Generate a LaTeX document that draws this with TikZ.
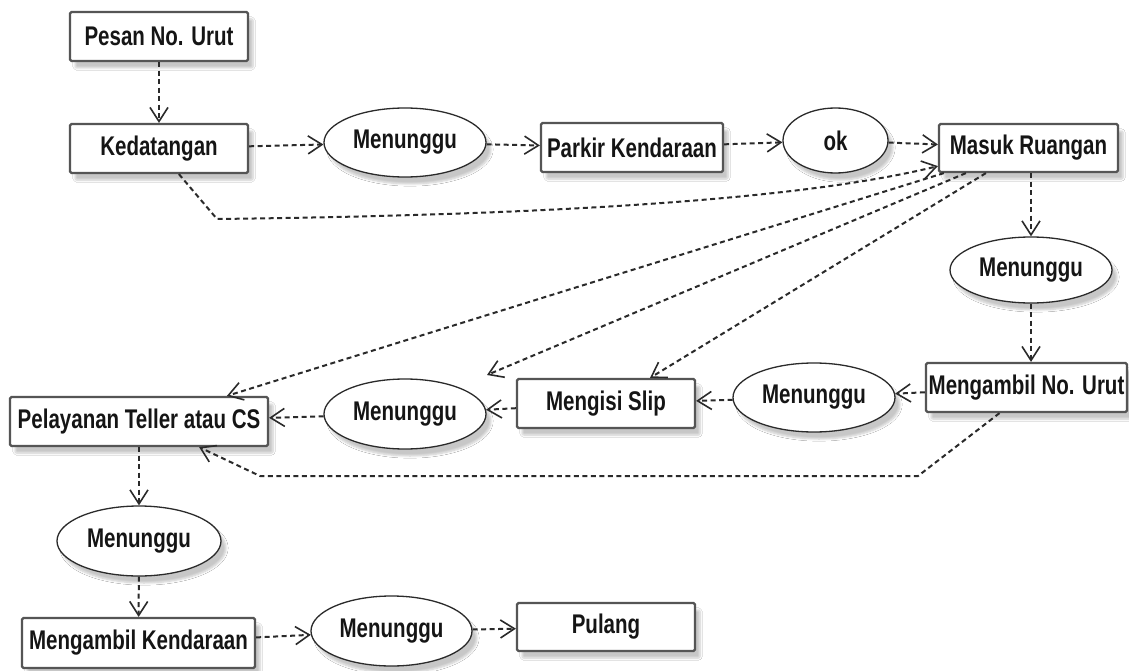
\documentclass[tikz,border=0pt]{standalone}
\usepackage{fontspec}
\setmainfont{Liberation Sans}[FakeStretch=0.76]
\usetikzlibrary{arrows.meta,shapes.geometric,calc,shadows.blur}

\definecolor{edgegray}{HTML}{2A2A2A}
\definecolor{boxgray}{HTML}{555555}
\definecolor{inkgray}{HTML}{151515}

\tikzset{
  softshadow/.style={blur shadow={shadow xshift=5pt,shadow yshift=-7pt,
      shadow blur steps=6,shadow opacity=22}},
  boxnode/.style={draw=boxgray,line width=2.2pt,rounded corners=1.5pt,fill=white,
      inner sep=0pt,minimum height=49pt,text=inkgray,
      font=\fontsize{27}{30}\selectfont\bfseries,softshadow},
  ovalnode/.style={ellipse,draw=edgegray,line width=1.3pt,fill=white,
      inner sep=0pt,minimum width=162pt,minimum height=69pt,text=inkgray,
      font=\fontsize{27}{30}\selectfont\bfseries,softshadow},
  dep/.style={draw=edgegray,line width=2pt,dash pattern=on 5pt off 3.5pt,
      -{Straight Barb[length=14pt,width=18pt,line width=1.6pt]}}
}

\begin{document}
\begin{tikzpicture}[x=1pt,y=-1pt]
\useasboundingbox (0,0) rectangle (1129,671);
\fill[white] (0,0) rectangle (1129,671);

% upper row
\node[boxnode,minimum width=178pt] (pesan) at (159,36.5) {Pesan No. Urut};
\node[boxnode,minimum width=178pt] (kedat) at (159,148.5) {Kedatangan};
\node[ovalnode] (wait1) at (405,142.5) {Menunggu};
\node[boxnode,minimum width=182pt] (parkir) at (632,147.5) {Parkir Kendaraan};
\node[ovalnode,minimum width=105pt,minimum height=65pt] (ok) at (835.5,140.5) {ok};
\node[boxnode,minimum width=179pt,minimum height=48pt] (masuk) at (1028.5,148) {Masuk Ruangan};

% right column and middle row
\node[ovalnode,minimum height=66pt] (wait2) at (1031,270) {Menunggu};
\node[boxnode,minimum width=201pt] (ambilno) at (1026.5,387.5) {Mengambil No. Urut};
\node[ovalnode] (wait3) at (814,397.5) {Menunggu};
\node[boxnode,minimum width=178pt] (slip) at (606,403.5) {Mengisi Slip};
\node[ovalnode,minimum height=70pt] (wait4) at (405,414) {Menunggu};
\node[boxnode,minimum width=258pt] (pelay) at (139,421.5) {Pelayanan Teller atau CS};

% lower part
\node[ovalnode,minimum width=164pt,minimum height=70pt] (wait5) at (139,541) {Menunggu};
\node[boxnode,minimum width=233pt,minimum height=50pt] (ambilk) at (138.5,643) {Mengambil Kendaraan};
\node[ovalnode,minimum width=161pt,minimum height=70pt] (wait6) at (391.5,631) {Menunggu};
\node[boxnode,minimum width=178pt,minimum height=48pt] (pulang) at (606,627) {Pulang};

% attachment points for the routed connectors
\coordinate (kedOut) at ($(kedat.south west)+(110,0)$);
\coordinate (kedBend) at (217,219);
\coordinate (masukIn) at ($(masuk.south west)+(0,-7)$);
\coordinate (masukA) at ($(masuk.south west)+(6,0)$);
\coordinate (masukB) at ($(masuk.south west)+(28,0)$);
\coordinate (masukC) at ($(masuk.south west)+(48,0)$);
\coordinate (pelayTop) at ($(pelay.north west)+(218,0)$);
\coordinate (wait4Near) at (487,375);
\coordinate (slipTop) at ($(slip.north)+(44,0)$);
\coordinate (ambOut) at ($(ambilno.south)+(-27,0)$);
\coordinate (ambBend) at (918,476);
\coordinate (lowBend) at (260,476);
\coordinate (pelayBot) at ($(pelay.south east)+(-70,0)$);

% main flow
\draw[dep] (pesan) -- (kedat);
\draw[dep] (kedat) -- (wait1);
\draw[dep] (wait1) -- (parkir);
\draw[dep] (parkir) -- (ok);
\draw[dep] (ok) -- (masuk);
\draw[dep] (masuk.south -| wait2) -- (wait2);
\draw[dep] (wait2) -- (ambilno.north -| wait2);
\draw[dep] (ambilno) -- (wait3);
\draw[dep] (wait3) -- (slip);
\draw[dep] (slip) -- (wait4);
\draw[dep] (wait4) -- (pelay);
\draw[dep] (pelay) -- (wait5);
\draw[dep] (wait5) -- (ambilk);
\draw[dep] (ambilk) -- (wait6);
\draw[dep] (wait6) -- (pulang);

% alternative routes
\draw[dep] (kedOut) -- (kedBend) .. controls (550,215) and (800,200) .. (masukIn);
\draw[dep] (masukA) -- (pelayTop);
\draw[dep] (masukB) -- (wait4Near);
\draw[dep] (masukC) -- (slipTop);
\draw[dep] (ambOut) -- (ambBend) -- (lowBend) -- (pelayBot);
\end{tikzpicture}
\end{document}
